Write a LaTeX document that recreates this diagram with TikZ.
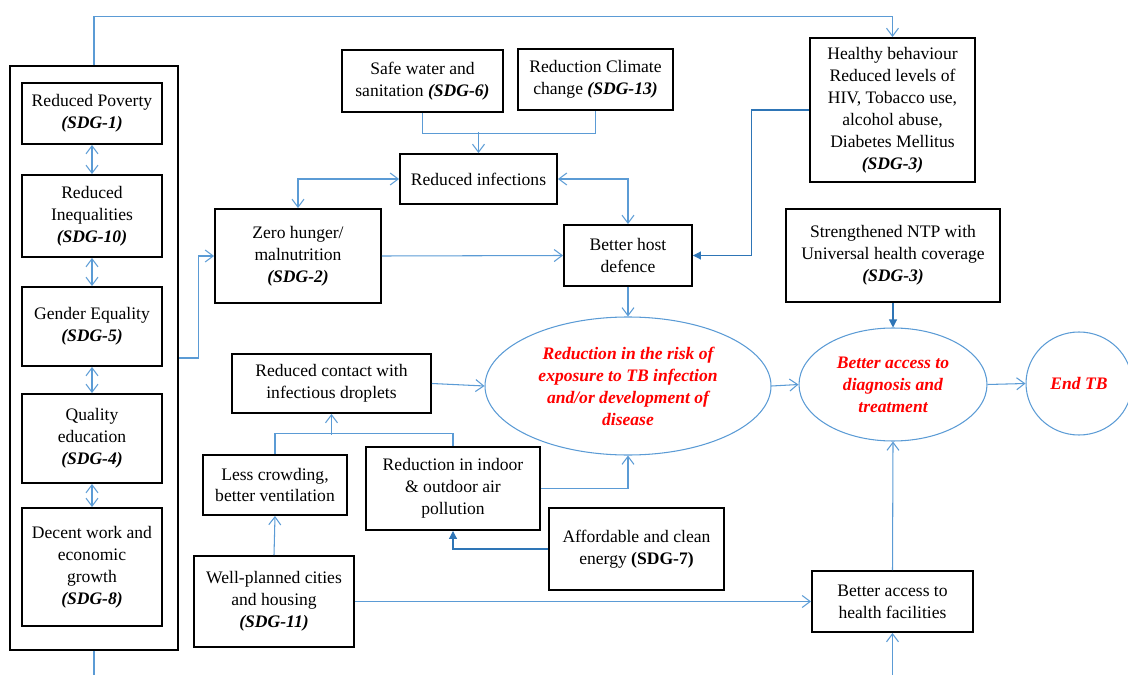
\documentclass[tikz,border=0pt]{standalone}
\usepackage{fontspec}
\setmainfont{Liberation Serif}
\usetikzlibrary{arrows.meta,positioning,calc,shapes.geometric}
\definecolor{linkblue}{RGB}{91,155,213}
\definecolor{darkblue}{RGB}{46,117,182}
\newcommand{\sdg}[1]{\textbf{\textit{#1}}}

\begin{document}
\begin{tikzpicture}[x=0.02cm,y=-0.02cm]
\tikzset{
    sz/.style 2 args={minimum width=#1*0.02cm,minimum height=#2*0.02cm},
    box/.style={rectangle,draw,line width=1.1pt,align=center,inner sep=1pt,
        font=\fontsize{10}{12.5}\selectfont},
    goal/.style={ellipse,draw=linkblue,line width=0.6pt,align=center,inner sep=0pt,
        text=red,font=\fontsize{10}{12.5}\selectfont\bfseries\itshape},
    wire/.style={draw=linkblue,line width=0.6pt},
    link/.style={wire,-{Straight Barb[length=1.6mm,width=2.4mm]}},
    both/.style={wire,{Straight Barb[length=1.6mm,width=2.4mm]}-{Straight Barb[length=1.6mm,width=2.4mm]}},
    lead/.style={draw=darkblue,line width=0.6pt,-{Triangle[length=1.6mm,width=1.6mm]}}
}
\useasboundingbox (0,0) rectangle (1128,675);
% left column of goals
\node[box,sz={168}{584}] (frame) at (94,358) {};
\node[box,sz={140}{61}] (pov) at (92,113.5) {Reduced Poverty\\\sdg{(SDG-1)}};
\node[box,sz={140}{82}] (ineq) at (92,216) {Reduced\\Inequalities\\\sdg{(SDG-10)}};
\node[box,sz={140}{79}] (gend) at (92,326.5) {Gender Equality\\\sdg{(SDG-5)}};
\node[box,sz={140}{89}] (qual) at (92,438.5) {Quality\\education\\\sdg{(SDG-4)}};
\node[box,sz={140}{118}] (work) at (92,567) {Decent work and\\economic\\growth\\\sdg{(SDG-8)}};
% upper boxes
\node[box,sz={166}{94}] (hunger) at (298,256) {Zero hunger/\\malnutrition\\\sdg{(SDG-2)}};
\node[box,sz={161}{62}] (water) at (422.5,81) {Safe water and\\sanitation \sdg{(SDG-6)}};
\node[box,sz={155}{61}] (climate) at (595.5,79.5) {Reduction Climate\\change \sdg{(SDG-13)}};
\node[box,sz={157}{50}] (infect) at (478.5,179) {Reduced infections};
\node[box,sz={128}{61}] (host) at (628,255.5) {Better host\\defence};
\node[box,sz={165}{144}] (healthy) at (892.5,110) {Healthy behaviour\\Reduced levels of\\HIV, Tobacco use,\\alcohol abuse,\\Diabetes Mellitus\\\sdg{(SDG-3)}};
\node[box,sz={214}{93}] (ntp) at (893,255.5) {Strengthened NTP with\\Universal health coverage\\\sdg{(SDG-3)}};
% outcomes
\node[goal,sz={286}{138}] (risk) at (628,386) {Reduction in the risk of\\exposure to TB infection\\and/or development of\\disease};
\node[goal,sz={188}{113}] (access) at (893,384.5) {Better access to\\diagnosis and\\treatment};
\node[goal,sz={106}{103}] (endtb) at (1079,383.5) {End TB};
% lower boxes
\node[box,sz={199}{59}] (contact) at (331.5,383.5) {Reduced contact with\\infectious droplets};
\node[box,sz={144}{60}] (crowd) at (275,485) {Less crowding,\\better ventilation};
\node[box,sz={174}{83}] (indoor) at (453,488.5) {Reduction in indoor\\\& outdoor air\\pollution};
\node[box,sz={175}{82}] (energy) at (636.5,549) {Affordable and clean\\energy \textbf{(SDG-7)}};
\node[box,sz={160}{91}] (cities) at (274,601.5) {Well-planned cities\\and housing\\\sdg{(SDG-11)}};
\node[box,sz={161}{61}] (facil) at (892.5,601.5) {Better access to\\health facilities};
\coordinate (frametail) at (94,680);
\coordinate (inlet) at (892.5,680);
% connectors
\path[both]
(pov) edge (ineq)
(ineq) edge (gend)
(gend) edge (qual)
(qual) edge (work)
;
\draw[link] (frame.north) -- ++(0,-49) -| (healthy.north);
\draw[wire] (frame.south) -- (frametail);
\draw[link] (frame.east) -- ++(20,0) |- (hunger.west);
\draw[both] (hunger.north) |- (infect.west);
\draw[wire] (water.south) -- ++(0,21) -| (climate.south);
\draw[link] (infect.north) ++(0,-21) -- (infect.north);
\draw[both] (infect.east) -| (host.north);
\draw[link] (hunger.east) -- (host.west);
\draw[lead] (healthy.west) -- ++(-58,0) |- (host.east);
\draw[lead] (ntp.south) -- (access.north);
\path[link]
(host.south) edge (risk.north)
(risk.east) edge (access.west)
(access.east) edge (endtb.west)
(contact.east) edge (risk.west)
(cities.north) edge (crowd.south)
(cities.east) edge (facil.west)
(facil.north) edge (access.south)
(inlet) edge (facil.south)
;
\draw[wire] (crowd.north) -- ++(0,-21) -| (indoor.north);
\draw[link] (contact.south) ++(0,21) -- (contact.south);
\draw[link] (indoor.east) -| (risk.south);
\draw[lead] (energy.west) -| (indoor.south);
\end{tikzpicture}
\end{document}
